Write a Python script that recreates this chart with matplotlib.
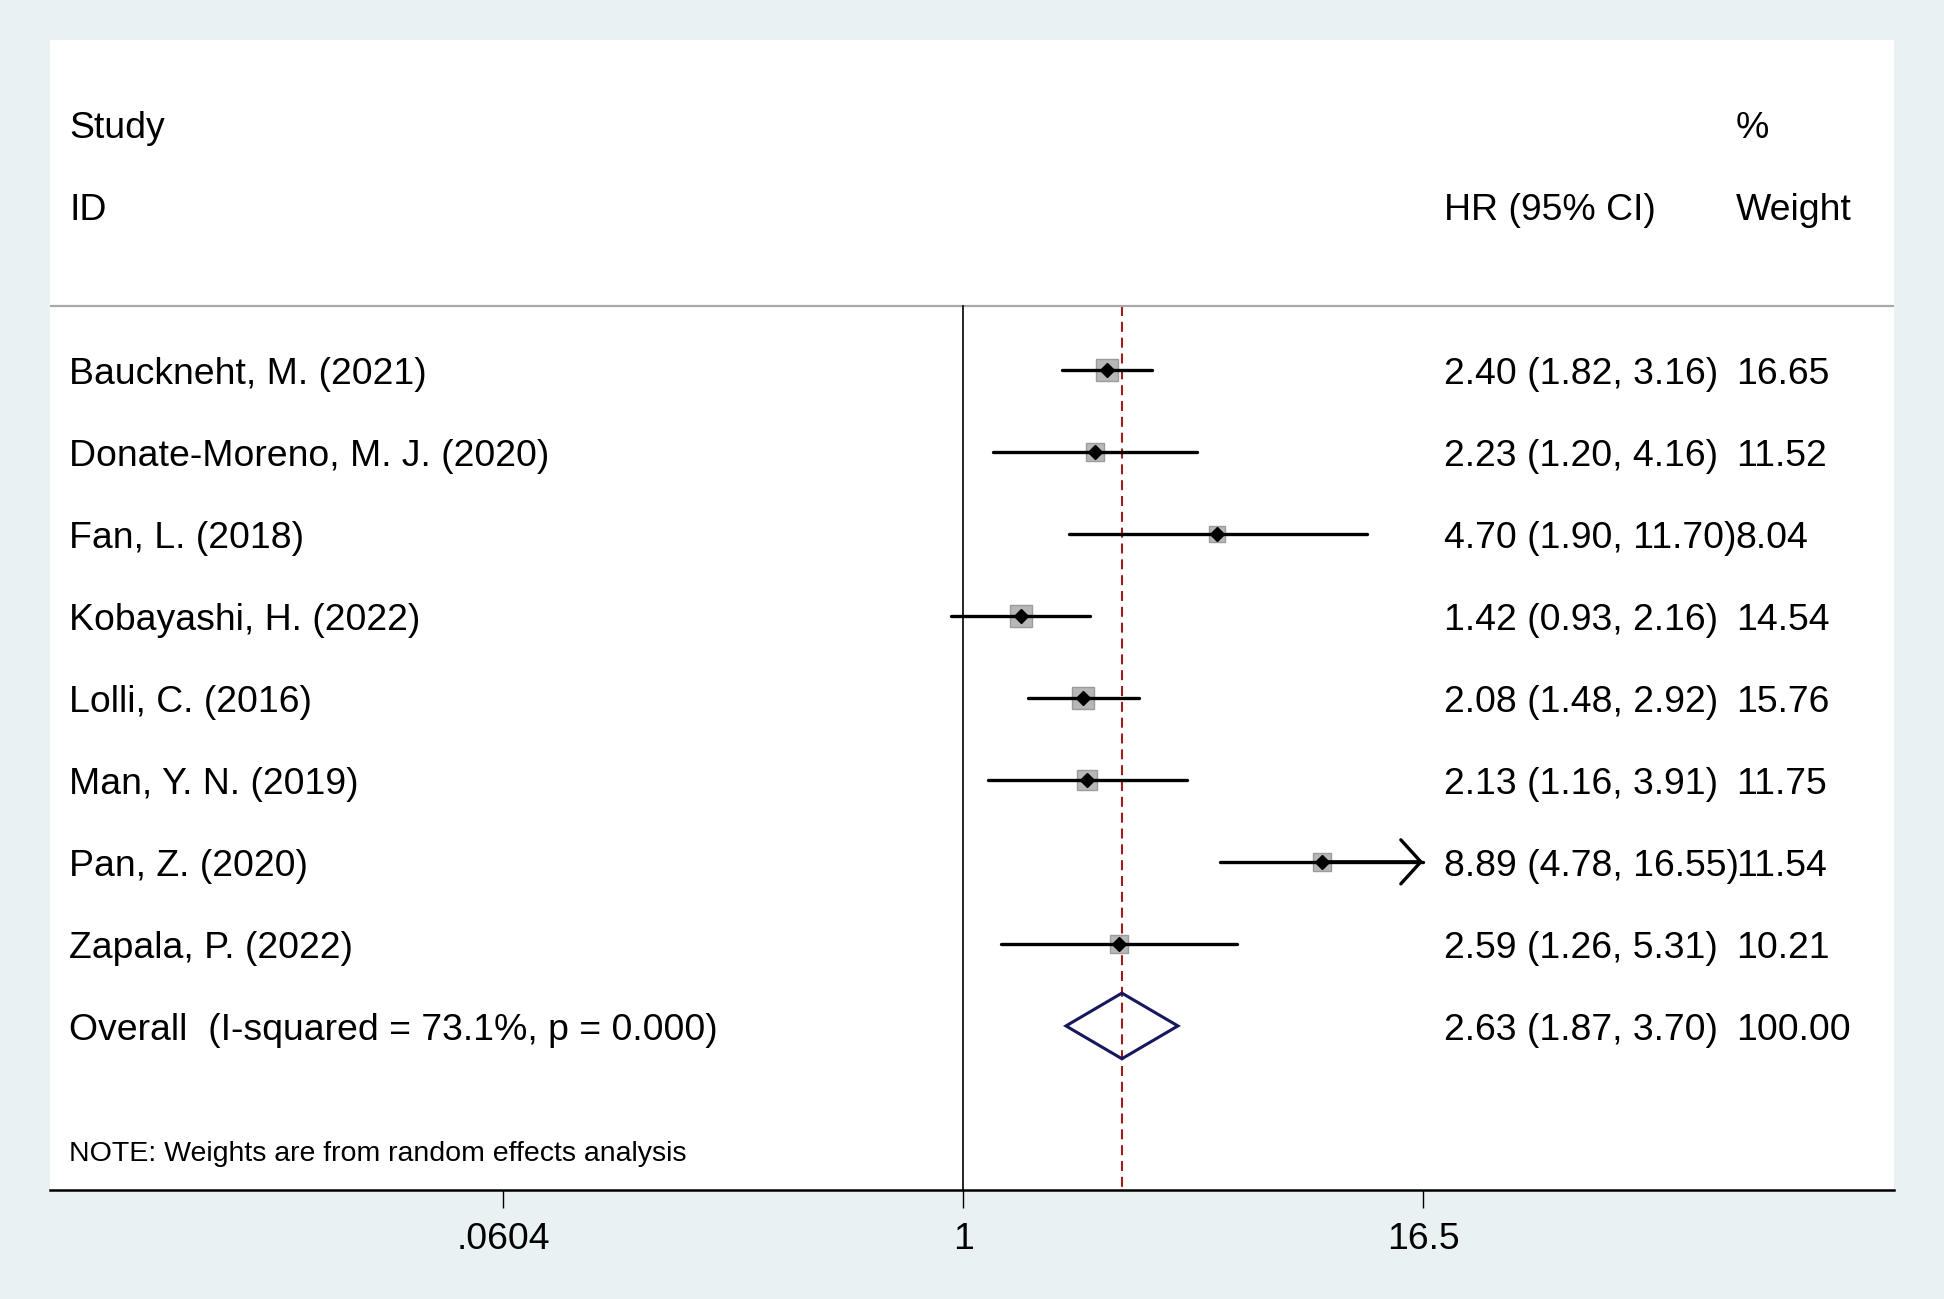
import matplotlib
matplotlib.use("Agg")
import matplotlib.pyplot as plt
import numpy as np

plt.rcParams["font.family"] = ["Liberation Sans", "DejaVu Sans"]

# study-level data
studies = [
    "Bauckneht, M. (2021)",
    "Donate-Moreno, M. J. (2020)",
    "Fan, L. (2018)",
    "Kobayashi, H. (2022)",
    "Lolli, C. (2016)",
    "Man, Y. N. (2019)",
    "Pan, Z. (2020)",
    "Zapala, P. (2022)",
]
hr = [2.40, 2.23, 4.70, 1.42, 2.08, 2.13, 8.89, 2.59]
ci_low = [1.82, 1.20, 1.90, 0.93, 1.48, 1.16, 4.78, 1.26]
ci_high = [3.16, 4.16, 11.70, 2.16, 2.92, 3.91, 16.55, 5.31]
weights = [16.65, 11.52, 8.04, 14.54, 15.76, 11.75, 11.54, 10.21]

overall_hr = 2.63
overall_low = 1.87
overall_high = 3.70
overall_weight = 100.00
overall_label = "Overall  (I-squared = 73.1%, p = 0.000)"
note_text = "NOTE: Weights are from random effects analysis"

xticks = [0.0604, 1, 16.5]
xtick_labels = [".0604", "1", "16.5"]

BG = "#E9F1F3"
RED = "#9E1C1C"
NAVY = "#17175F"
FS = 26.9
TXT_DY = 0.06  # nudge text down to line up with the marks


def fmt_ci(e, lo, hi):
    return f"{e:.2f} ({lo:.2f}, {hi:.2f})"


def main():
    fig = plt.figure(figsize=(19.44, 12.99), dpi=100, facecolor=BG)
    ax = fig.add_axes([0.0255, 0.0839, 0.949, 0.8855])
    ax.set_facecolor("white")
    ax.set_xscale("log")
    ax.set_xlim(np.exp(-5.571), np.exp(5.677))
    ax.set_ylim(10.0, -4.02)

    for side in ["top", "left", "right"]:
        ax.spines[side].set_visible(False)
    ax.spines["bottom"].set_linewidth(1.8)
    ax.set_yticks([])
    ax.set_xticks(xticks)
    ax.set_xticklabels(xtick_labels, fontsize=FS)
    ax.minorticks_off()
    ax.tick_params(axis="x", length=13, width=1.0, pad=10, direction="out")

    header_y = -0.77
    ax.axhline(header_y, color="#A8A8A8", lw=1.6)
    ax.plot([1, 1], [header_y, 10.0], color="black", lw=1.2, zorder=2)
    ax.plot([overall_hr, overall_hr], [header_y, 10.0], color=RED, lw=1.5,
            linestyle=(0, (4.8, 2.8)), zorder=1)

    trans_txt = matplotlib.transforms.blended_transform_factory(ax.transAxes, ax.transData)
    x_study, x_hr, x_w = 0.0108, 0.756, 0.914

    def put(x, y, s, size=FS):
        ax.text(x, y + TXT_DY, s, transform=trans_txt, fontsize=size, va="center")

    put(x_study, -3, "Study")
    put(x_study, -2, "ID")
    put(x_w, -3, "%")
    put(x_hr, -2, "HR (95% CI)")
    put(x_w, -2, "Weight")

    x_clip = xticks[-1]
    for i, name in enumerate(studies):
        lo, hi = ci_low[i], ci_high[i]
        ax.plot([hr[i]], [i], marker="s", markersize=4.0 * np.sqrt(weights[i]),
                markerfacecolor="#B7B7B7", markeredgecolor="#9C9C9C",
                markeredgewidth=1.0, linestyle="none", zorder=3)
        if hi > x_clip:
            ax.plot([lo, x_clip], [i, i], color="black", lw=2.4, zorder=4,
                    solid_capstyle="round")
            ax.annotate("", xy=(x_clip, i), xytext=(hr[i], i),
                        arrowprops=dict(arrowstyle="->,head_length=0.4,head_width=0.44",
                                        color="black", lw=2.4, mutation_scale=36,
                                        shrinkA=0, shrinkB=0),
                        zorder=4)
        else:
            ax.plot([lo, hi], [i, i], color="black", lw=2.4, zorder=4,
                    solid_capstyle="round")
        ax.plot([hr[i]], [i], marker="D", markersize=7.4, color="black",
                linestyle="none", zorder=5)

        put(x_study, i, name)
        put(x_hr, i, fmt_ci(hr[i], lo, hi))
        put(x_w, i, f"{weights[i]:.2f}")

    oy = len(studies)
    ax.fill([overall_low, overall_hr, overall_high, overall_hr],
            [oy, oy - 0.4, oy, oy + 0.4], fill=False, edgecolor=NAVY, lw=2.2, zorder=5)
    put(x_study, oy, overall_label)
    put(x_hr, oy, fmt_ci(overall_hr, overall_low, overall_high))
    put(x_w, oy, f"{overall_weight:.2f}")

    put(x_study, oy + 1.5, note_text, size=20.5)

    fig.savefig("out.png", dpi=100, facecolor=BG)
    plt.close(fig)


if __name__ == "__main__":
    main()
